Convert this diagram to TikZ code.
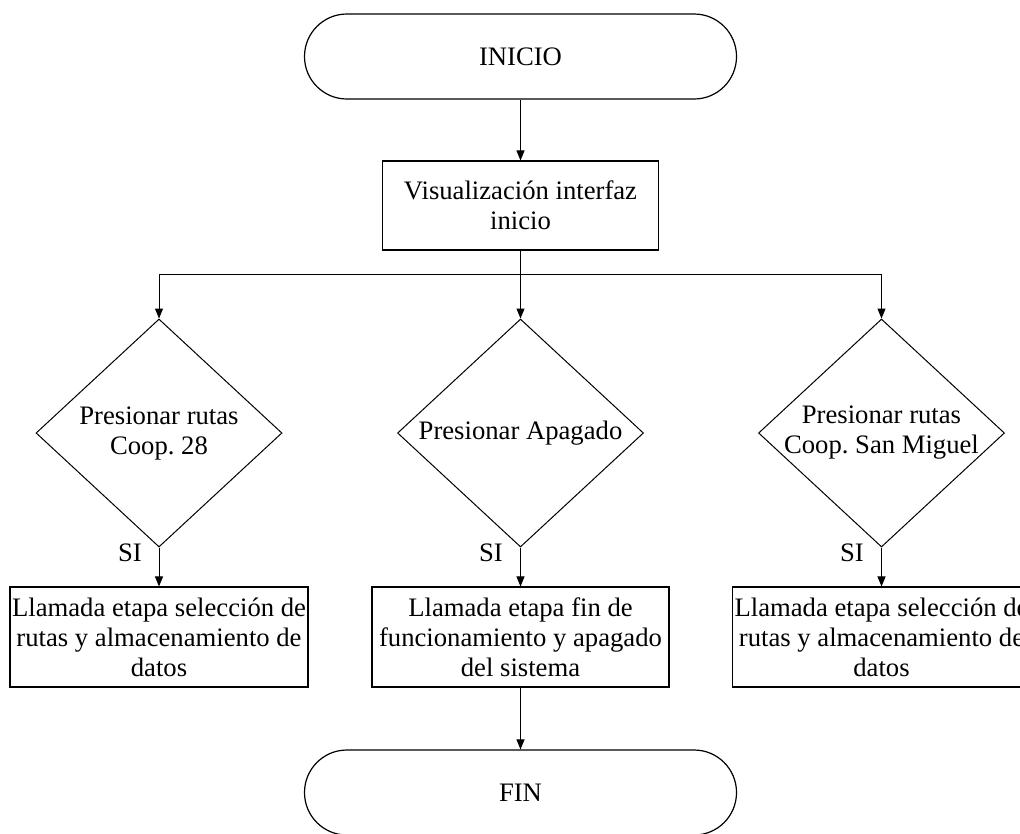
\documentclass[tikz,border=0pt]{standalone}
\usepackage{fontspec}
\setmainfont{Liberation Serif}
\usetikzlibrary{arrows.meta,shapes.geometric}
\frenchspacing

\begin{document}
\begin{tikzpicture}[x=0.75pt,y=-0.75pt,
  every node/.style={font=\fontsize{20}{22.5}\selectfont},
  terminal/.style={draw, line width=0.9pt, rounded corners=31.8pt,
    minimum width=324pt, minimum height=63.75pt, inner sep=0pt},
  procbox/.style={draw, line width=0.8pt, align=center, inner sep=0pt},
  decision/.style={draw, diamond, line width=0.75pt, inner sep=0pt,
    minimum width=184.5pt, minimum height=171pt},
  dtext/.style={align=center, inner sep=0pt},
  arr/.style={-{Triangle[length=7.5pt,width=6pt]}, line width=0.75pt},
  conn/.style={line width=0.75pt}]

\useasboundingbox (0,0) rectangle (1020,833);
\clip (0,0) rectangle (1020,833);

% start and end terminals
\node[terminal] (inicio) at (520.5,56.5) {INICIO};
\node[terminal] (fin) at (520.5,792.5) {FIN};

% first process
\node[procbox, minimum width=207pt, minimum height=66.75pt] (vis) at (520.5,205.5)
  {Visualización interfaz\\inicio};

% decisions
\node[decision] (d1) at (159,433) {};
\node[decision] (d2) at (520.5,433) {};
\node[decision] (d3) at (881.5,433) {};
\node[dtext] (t1) at (d1) {Presionar rutas\\Coop. 28};
\node[dtext] (t2) at (d2) {Presionar Apagado};
\node[dtext] (t3) at (d3) {Presionar rutas\\Coop. San Miguel};

% actions
\node[procbox, minimum width=223.5pt, minimum height=75pt] (b1) at (159,637)
  {Llamada etapa selección de\\rutas y almacenamiento de\\datos};
\node[procbox, minimum width=222.75pt, minimum height=75pt] (b2) at (520.5,637)
  {Llamada etapa fin de\\funcionamiento y apagado\\del sistema};
\node[procbox, minimum width=223.5pt, minimum height=75pt] (b3) at (881.5,637)
  {Llamada etapa selección de\\rutas y almacenamiento de\\datos};

% branch labels
\node[anchor=east, inner sep=0pt] (si1) at (142,553) {SI};
\node[anchor=east, inner sep=0pt] (si2) at (503,553) {SI};
\node[anchor=east, inner sep=0pt] (si3) at (864,553) {SI};

% connectors
\coordinate (split) at (520.5,274);
\draw[arr] (inicio.south) -- (vis.north);
\draw[conn] (vis.south) -- (split);
\draw[arr] (split) -| (d1.north);
\draw[arr] (split) -- (d2.north);
\draw[arr] (split) -| (d3.north);
\draw[arr] (d1.south) -- (b1.north);
\draw[arr] (d2.south) -- (b2.north);
\draw[arr] (d3.south) -- (b3.north);
\draw[arr] (b2.south) -- (fin.north);
\end{tikzpicture}
\end{document}
